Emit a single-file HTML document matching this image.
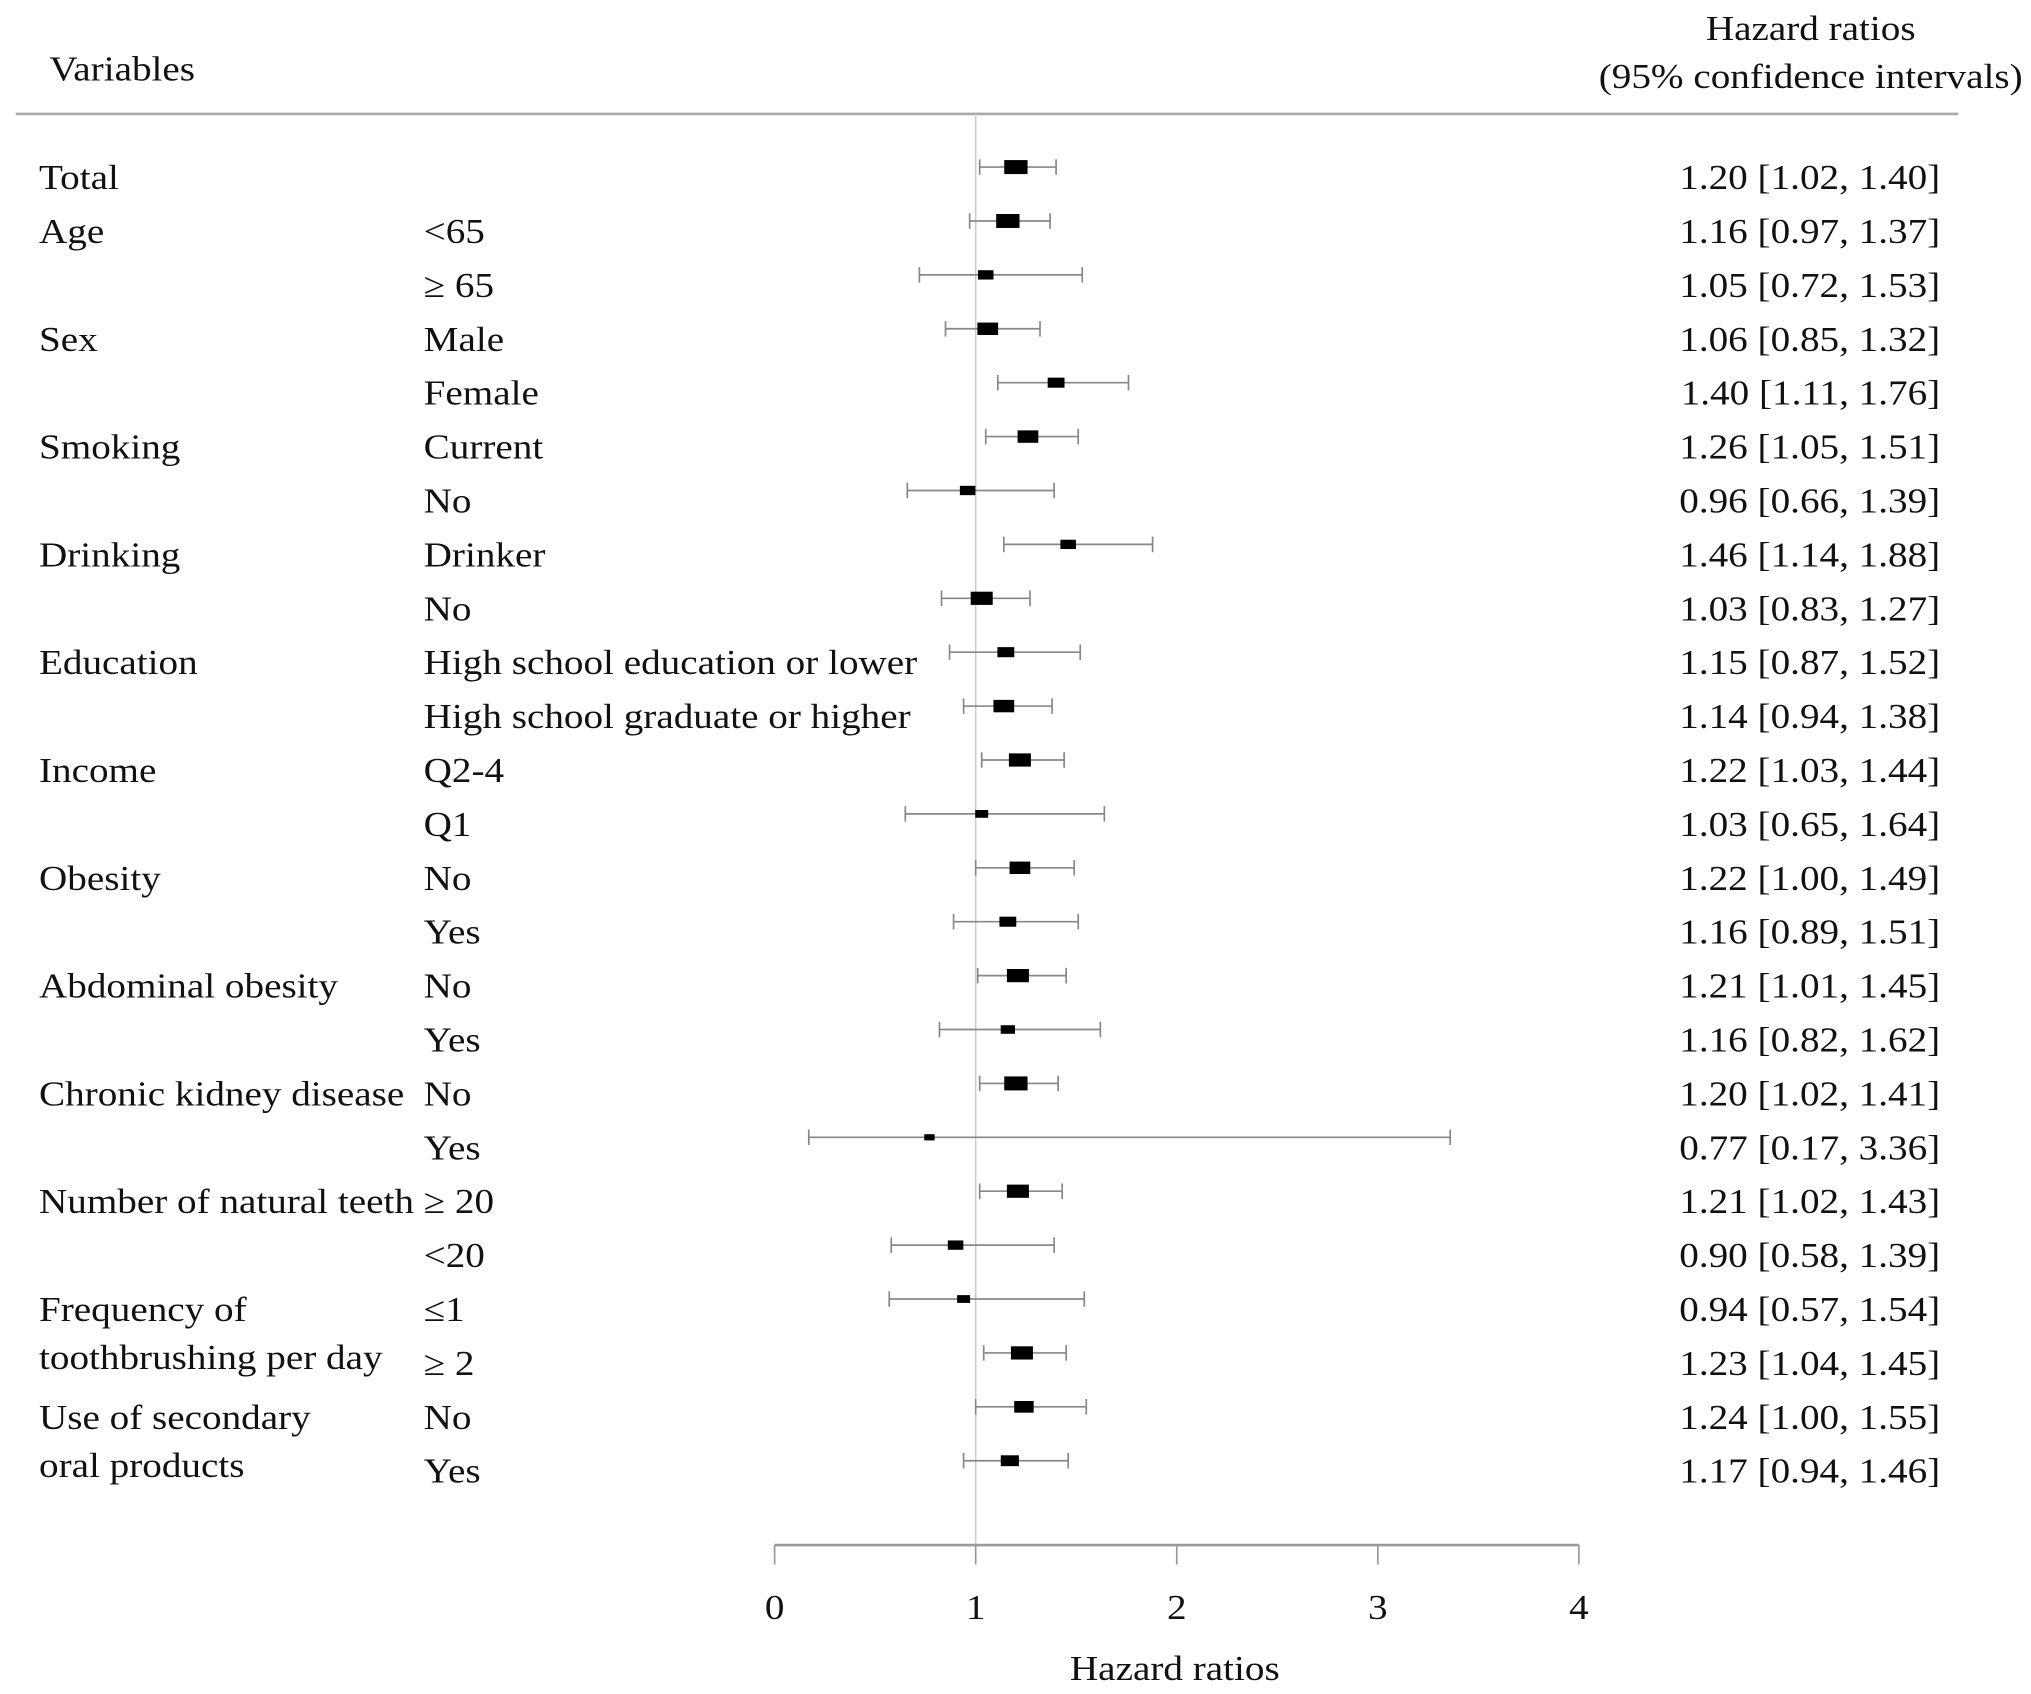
<!DOCTYPE html>
<html><head><meta charset="utf-8">
<style>
html,body{margin:0;padding:0;background:#fff;}
svg{display:block;}
text{font-family:"Liberation Serif",serif;fill:#111;}
</style></head>
<body>
<svg id="chart" width="2031" height="1694" viewBox="0 0 1568 1308" xmlns="http://www.w3.org/2000/svg">
<text transform="translate(38,62) scale(1.12,1)" font-size="27">Variables</text>
<text transform="translate(1398,31) scale(1.12,1)" font-size="27" text-anchor="middle">Hazard ratios</text>
<text transform="translate(1398,68) scale(1.12,1)" font-size="27" text-anchor="middle">(95% confidence intervals)</text>
<line x1="12" y1="88" x2="1512" y2="88" stroke="#aaa" stroke-width="2"/>
<g id="plot"></g>
</svg>
<script>
const groups = ["Total","Age","","Sex","","Smoking","","Drinking","","Education","","Income","","Obesity","","Abdominal obesity","","Chronic kidney disease","","Number of natural teeth","","Frequency of","toothbrushing per day","Use of secondary","oral products"];
const subgroups = ["","<65","\u2265 65","Male","Female","Current","No","Drinker","No","High school education or lower","High school graduate or higher","Q2-4","Q1","No","Yes","No","Yes","No","Yes","\u2265 20","<20","\u22641","\u2265 2","No","Yes"];
const hr = [1.20,1.16,1.05,1.06,1.40,1.26,0.96,1.46,1.03,1.15,1.14,1.22,1.03,1.22,1.16,1.21,1.16,1.20,0.77,1.21,0.90,0.94,1.23,1.24,1.17];
const lower = [1.02,0.97,0.72,0.85,1.11,1.05,0.66,1.14,0.83,0.87,0.94,1.03,0.65,1.00,0.89,1.01,0.82,1.02,0.17,1.02,0.58,0.57,1.04,1.00,0.94];
const upper = [1.40,1.37,1.53,1.32,1.76,1.51,1.39,1.88,1.27,1.52,1.38,1.44,1.64,1.49,1.51,1.45,1.62,1.41,3.36,1.43,1.39,1.54,1.45,1.55,1.46];
const weights = [18,18,12,16,13,16,12,12,17,13,16,17,10,16,13,17,11,18,8,17,12,10,17,15,14];
const ticks = [0,1,2,3,4];

const NS="http://www.w3.org/2000/svg";
const g=document.getElementById('plot');
const x=v=>598+155.25*v;
const rowY=i=>137+41.62*i;
function mk(tag,attrs,txt){const e=document.createElementNS(NS,tag);for(const k in attrs)e.setAttribute(k,attrs[k]);if(txt!==undefined)e.textContent=txt;g.appendChild(e);return e;}
function txt(px,py,s,anchor){return mk('text',{transform:'translate('+px+','+py+') scale(1.12,1)','font-size':27,'text-anchor':anchor||'start'},s);}

let ref=mk('line',{x1:x(1),y1:88,x2:x(1),y2:1193,stroke:'#ccc','stroke-width':1.2});



hr.forEach((v,i)=>{
  const ty=rowY(i)+9, by=rowY(i)-8;
  let t=txt(327,ty,subgroups[i]);
  
  
  let r=txt(1498,ty,v.toFixed(2)+' ['+lower[i].toFixed(2)+', '+upper[i].toFixed(2)+']','end');
  
  
  let l=mk('line',{x1:x(lower[i]),y1:by,x2:x(upper[i]),y2:by,stroke:'#888','stroke-width':1.3});
  
  
  [lower[i],upper[i]].forEach(c=>{
    let cap=mk('line',{x1:x(c),y1:by-6,x2:x(c),y2:by+6,stroke:'#888','stroke-width':1.3});
    
    
  });
  const w=weights[i],h=Math.max(4,w*0.6);
  let b=mk('rect',{x:x(v)-w/2,y:by-h/2,width:w,height:h,fill:'#000'});
  
  
});
groups.forEach((s,i)=>{
  if(!s)return;
  let yy=rowY(i)+9;
  if(s==="Frequency of") yy=rowY(21)+9;
  else if(s==="toothbrushing per day") yy=rowY(21)+46;
  else if(s==="Use of secondary") yy=rowY(23)+9;
  else if(s==="oral products") yy=rowY(23)+46;
  let t=txt(30,yy,s);
  
  
});
let ax=mk('line',{x1:x(0),y1:1193,x2:x(4),y2:1193,stroke:'#999','stroke-width':2});


ticks.forEach(t=>{
  let tk=mk('line',{x1:x(t),y1:1193,x2:x(t),y2:1208,stroke:'#999','stroke-width':1.3});
  
  
  let tl=txt(x(t),1250,String(t),'middle');
  
  
});
let xt=txt(907,1297,'Hazard ratios','middle');


</script>
</body></html>
